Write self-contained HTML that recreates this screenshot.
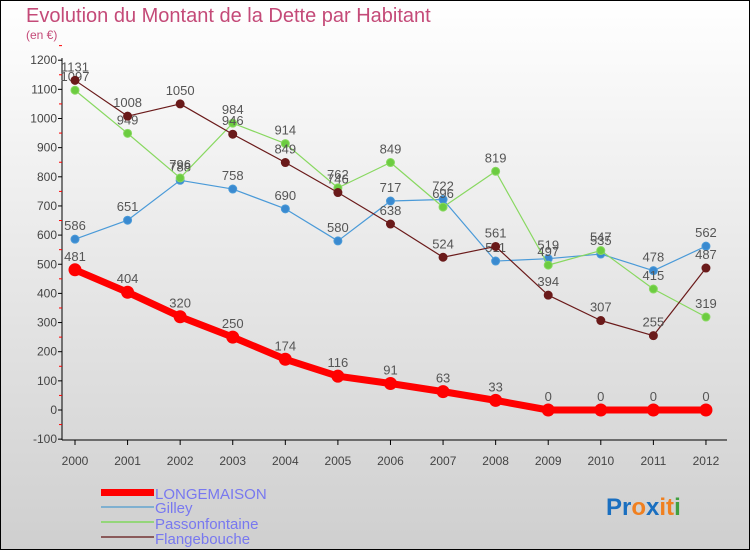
<!DOCTYPE html>
<html><head><meta charset="utf-8"><style>
body{margin:0}
#c{width:750px;height:550px;position:relative;overflow:hidden;font-family:"Liberation Sans",sans-serif}
</style></head><body>
<div id="c">
<svg id="s" width="750" height="550" xmlns="http://www.w3.org/2000/svg">
<defs><linearGradient id="bg" x1="0" y1="0" x2="0" y2="1"><stop offset="0" stop-color="#ffffff"/><stop offset="1" stop-color="#cfcfcf"/></linearGradient></defs>
<rect x="0.5" y="0.5" width="749" height="549" fill="url(#bg)" stroke="#000"/>
<text x="26" y="22" font-size="20" fill="#c44a78">Evolution du Montant de la Dette par Habitant</text>
<text x="26" y="39" font-size="12" fill="#c44a78">(en €)</text>
<g id="axes"></g><g id="series"></g>
<g>
<rect x="101" y="489" width="53" height="7" fill="#f00"/>
<text x="155" y="499" font-size="15" fill="#7878f0">LONGEMAISON</text>
<rect x="101" y="506" width="53" height="2" fill="#7fb0d0"/>
<text x="155" y="513" font-size="15" fill="#7878f0">Gilley</text>
<rect x="101" y="521" width="53" height="2" fill="#94d67a"/>
<text x="155" y="529" font-size="15" fill="#7878f0">Passonfontaine</text>
<rect x="101" y="536" width="53" height="2" fill="#8a5a5a"/>
<text x="155" y="544" font-size="15" fill="#7878f0">Flangebouche</text>
</g>
<text x="606" y="515" font-size="24" font-weight="bold"><tspan fill="#1a6fc0">Pr</tspan><tspan fill="#f08020">o</tspan><tspan fill="#1a6fc0">x</tspan><tspan fill="#f08020">it</tspan><tspan fill="#40a040">i</tspan></text>
</svg></div>
<script>
const years=["2000","2001","2002","2003","2004","2005","2006","2007","2008","2009","2010","2011","2012"];
const yTicks=[-100,0,100,200,300,400,500,600,700,800,900,1000,1100,1200];
const longemaison=[481,404,320,250,174,116,91,63,33,0,0,0,0];
const gilley=[586,651,788,758,690,580,717,722,511,519,535,478,562];
const passonfontaine=[1097,949,796,984,914,762,849,696,819,497,547,415,319];
const flangebouche=[1131,1008,1050,946,849,746,638,524,561,394,307,255,487];
const NS="http://www.w3.org/2000/svg";
function X(i){return 75+i*52.58;}
function Y(v){return 410-v*0.2915;}
function mk(t,a,p){const e=document.createElementNS(NS,t);for(const k in a)e.setAttribute(k,a[k]);p.appendChild(e);return e;}
const ax=document.getElementById('axes');
const yl=mk('line',{x1:62,y1:58,x2:62,y2:440,stroke:'#000'},ax);


const xl=mk('line',{x1:62,y1:440,x2:727,y2:440,stroke:'#000'},ax);


yTicks.forEach(v=>{
 mk('line',{x1:58,y1:Y(v),x2:62,y2:Y(v),stroke:'#000'},ax);
 mk('line',{x1:59,y1:Y(v+50),x2:62,y2:Y(v+50),stroke:'#f00'},ax);
 const t=mk('text',{x:57,y:Y(v)+4,'font-size':12,'text-anchor':'end',fill:'#444'},ax);
 t.textContent=v;
 
 
});
years.forEach((y,i)=>{
 mk('line',{x1:X(i),y1:440,x2:X(i),y2:445,stroke:'#000'},ax);
 const t=mk('text',{x:X(i),y:465,'font-size':12,'text-anchor':'middle',fill:'#444'},ax);
 t.textContent=y;
 
 
});
const sg=document.getElementById('series');
function draw(data,name,col,dot,w,r){
 const g=mk('g',{},sg);
 
 
 const pl=mk('polyline',{points:data.map((v,i)=>X(i)+','+Y(v)).join(' '),fill:'none',stroke:col,'stroke-width':w,'stroke-linejoin':'round'},g);
 
 
 data.forEach((v,i)=>{
  const c=mk('circle',{cx:X(i),cy:Y(v),r:r,fill:dot,stroke:col,'stroke-width':1},g);
  
  
  const t=mk('text',{x:X(i),y:Y(v)-9,'font-size':13,'text-anchor':'middle',fill:'#555'},g);
  t.textContent=v;
  
  
 });
}
draw(gilley,'gilley','#4a9ad8','#3a8ad0',1.2,4);
draw(passonfontaine,'passonfontaine','#88d860','#6ccc40',1.2,4);
draw(flangebouche,'flangebouche','#6a1a1a','#6a1a1a',1.2,4);
draw(longemaison,'longemaison','#f00','#f00',7,6);
</script>
</body></html>
